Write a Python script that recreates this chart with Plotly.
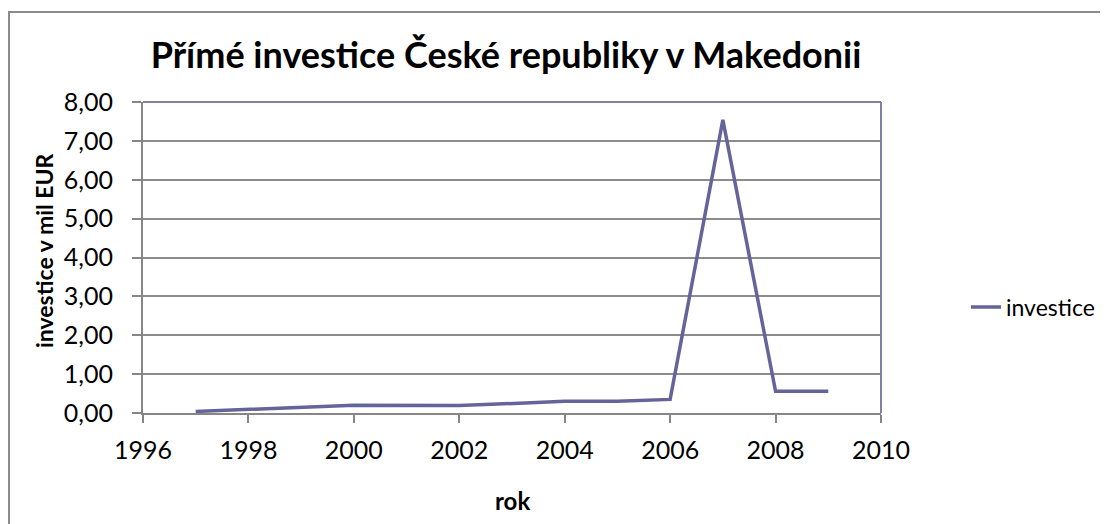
import plotly.graph_objects as go

years = [1997, 2000, 2002, 2004, 2005, 2006, 2007, 2008, 2009]
investice = [0.04, 0.20, 0.19, 0.30, 0.30, 0.35, 7.54, 0.56, 0.56]
series_name = "investice"
title_text = "Přímé investice České republiky v Makedonii"
y_title = "investice v mil EUR"
x_title = "rok"
y_ticks = [0, 1, 2, 3, 4, 5, 6, 7, 8]
x_ticks = [1996, 1998, 2000, 2002, 2004, 2006, 2008, 2010]

FONT = "Lato"
fig = go.Figure()
fig.add_trace(go.Scatter(
    x=years, y=investice, mode="lines", name=series_name,
    line=dict(color="#64649B", width=3.5),
))

OFF = 8  # page body margin
W, H = 1100, 516
L, T = 143 - OFF, 102 - OFF
R = W - (881 - OFF)
B = H - (413 - OFF)
pw = W - L - R
ph = H - T - B

def px_x(p):
    return (p - OFF - L) / pw

def px_y(p):
    return (H - B - (p - OFF)) / ph

fig.update_layout(
    width=W, height=H,
    margin=dict(l=L, r=R, t=T, b=B, autoexpand=False),
    paper_bgcolor="white", plot_bgcolor="white",
    separators=", ",
    font=dict(family=FONT, color="black", size=24),
    title=dict(text="<b>" + title_text + "</b>", x=px_x(506), xref="paper",
               xanchor="center", y=1 - (55 - OFF) / H, yanchor="middle",
               font=dict(size=36, family=FONT)),
    showlegend=True,
    legend=dict(x=px_x(966), y=px_y(307), xanchor="left", yanchor="middle",
                font=dict(size=23, family=FONT), bgcolor="rgba(0,0,0,0)"),
    xaxis=dict(range=[1996, 2010], tickvals=x_ticks, ticktext=[str(v) for v in x_ticks],
               showgrid=False, zeroline=False, showline=True, linecolor="#868686",
               linewidth=2, ticks="outside", ticklen=8, tickwidth=2, tickcolor="#868686",
               tickfont=dict(size=25, family=FONT), ticklabelstandoff=6),
    yaxis=dict(range=[0, 8], tickvals=y_ticks, tickformat=".2f",
               showgrid=True, gridcolor="#8C8C8C", gridwidth=1.5,
               zeroline=False, showline=True, linecolor="#868686", linewidth=2,
               ticks="outside", ticklen=9, tickwidth=2, tickcolor="#868686",
               tickfont=dict(size=25, family=FONT), ticklabelstandoff=14),
    annotations=[
        dict(text="<b>" + y_title + "</b>", xref="paper", yref="paper",
             x=px_x(44), y=px_y(251), xanchor="center", yanchor="middle",
             textangle=-90, showarrow=False, font=dict(size=23, family=FONT)),
        dict(text="<b>" + x_title + "</b>", xref="paper", yref="paper",
             x=px_x(512), y=px_y(500), xanchor="center", yanchor="middle",
             showarrow=False, font=dict(size=24, family=FONT)),
    ],
    shapes=[
        dict(type="line", xref="paper", yref="paper", x0=0, x1=1, y0=1, y1=1,
             line=dict(color="#7F7FA8", width=2)),
        dict(type="line", xref="paper", yref="paper", x0=1, x1=1, y0=0, y1=1,
             line=dict(color="#7F7FA8", width=2)),
        dict(type="rect", xref="paper", yref="paper",
             x0=px_x(9), x1=px_x(1140), y0=px_y(560), y1=px_y(12),
             line=dict(color="#8C8C8C", width=2), layer="below"),
    ],
)

fig.write_html("out.html")
